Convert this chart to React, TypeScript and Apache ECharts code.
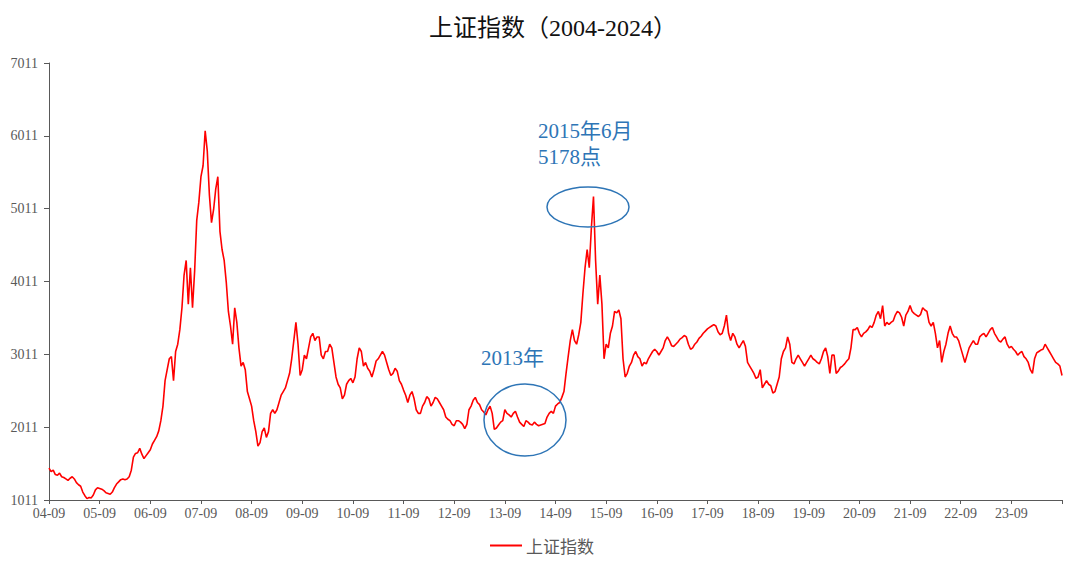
import React, { useEffect, useRef } from "react";
import * as echarts from "echarts";

// Semi-monthly closes (1st / mid of each month), starting 2004-09
const y2004 = [1450, 1400, 1420, 1360, 1350, 1380, 1330, 1320];
const y2005 = [1300, 1280, 1310, 1330, 1300, 1250, 1220, 1200, 1120, 1070, 1030, 1045, 1040, 1080, 1150, 1180, 1170, 1160, 1140, 1110, 1100, 1090, 1120, 1180];
const y2006 = [1230, 1260, 1290, 1300, 1290, 1300, 1330, 1420, 1600, 1650, 1660, 1720, 1640, 1580, 1620, 1660, 1700, 1780, 1830, 1880, 1960, 2100, 2300, 2650];
const y2007 = [2800, 2950, 2980, 2650, 3050, 3150, 3350, 3650, 4100, 4300, 3700, 4200, 3650, 4150, 4850, 5100, 5450, 5600, 6080, 5800, 5200, 4820, 5000, 5280];
const y2008 = [5450, 4700, 4450, 4300, 4000, 3600, 3400, 3150, 3650, 3450, 3100, 2850, 2900, 2800, 2500, 2400, 2300, 2100, 1950, 1750, 1800, 1950, 2000, 1870];
const y2009 = [1950, 2200, 2250, 2200, 2250, 2350, 2450, 2500, 2550, 2650, 2750, 2950, 3200, 3450, 3150, 2720, 2800, 3000, 2950, 3100, 3250, 3300, 3200, 3250];
const y2010 = [3250, 3000, 2950, 3050, 3050, 3150, 3100, 2900, 2700, 2600, 2550, 2400, 2450, 2600, 2650, 2680, 2620, 2700, 2950, 3100, 3050, 2850, 2900, 2820];
const y2011 = [2780, 2700, 2800, 2920, 2950, 3000, 3050, 3000, 2900, 2800, 2720, 2750, 2820, 2780, 2650, 2600, 2520, 2450, 2350, 2450, 2500, 2400, 2250, 2200];
const y2012 = [2200, 2300, 2350, 2430, 2400, 2300, 2350, 2420, 2400, 2350, 2300, 2250, 2150, 2120, 2100, 2050, 2030, 2100, 2100, 2080, 2050, 1990, 2050, 2250];
const y2013 = [2300, 2380, 2420, 2350, 2320, 2250, 2220, 2180, 2250, 2300, 2200, 1980, 2000, 2040, 2080, 2100, 2250, 2200, 2180, 2150, 2200, 2230, 2150, 2080];
const y2014 = [2050, 2020, 2100, 2080, 2050, 2040, 2080, 2050, 2030, 2040, 2050, 2060, 2150, 2200, 2230, 2200, 2300, 2330, 2350, 2420, 2500, 2750, 2980, 3200];
const y2015 = [3350, 3200, 3150, 3280, 3450, 3850, 4200, 4450, 4200, 4750, 5178, 4300, 3700, 4100, 3700, 2950, 3150, 3100, 3300, 3400, 3600, 3580, 3620, 3500];
const y2016 = [2950, 2700, 2750, 2850, 2900, 3000, 3050, 2980, 2950, 2850, 2900, 2880, 2950, 3000, 3050, 3080, 3050, 3000, 3050, 3100, 3200, 3250, 3200, 3130];
const y2017 = [3120, 3150, 3180, 3220, 3240, 3270, 3250, 3150, 3080, 3100, 3150, 3180, 3230, 3260, 3300, 3330, 3360, 3380, 3400, 3420, 3400, 3320, 3280, 3300];
const y2018 = [3400, 3550, 3300, 3200, 3300, 3250, 3150, 3100, 3150, 3200, 3120, 2900, 2850, 2800, 2750, 2680, 2700, 2800, 2550, 2600, 2650, 2600, 2580, 2480];
const y2019 = [2500, 2600, 2700, 2950, 3050, 3100, 3250, 3150, 2900, 2880, 2950, 3000, 2950, 2900, 2850, 2900, 2950, 3000, 2950, 2930, 2900, 2880, 2950, 3050];
const y2020 = [3100, 2980, 2750, 3000, 3000, 2750, 2780, 2830, 2850, 2880, 2920, 2950, 3100, 3350, 3350, 3380, 3300, 3250, 3300, 3320, 3350, 3400, 3380, 3450];
const y2021 = [3550, 3600, 3500, 3680, 3400, 3450, 3420, 3450, 3470, 3550, 3600, 3580, 3520, 3400, 3550, 3600, 3680, 3600, 3570, 3550, 3530, 3560, 3650, 3620];
const y2022 = [3600, 3450, 3400, 3450, 3300, 3100, 3200, 2900, 3050, 3150, 3300, 3400, 3300, 3250, 3250, 3200, 3100, 3000, 2900, 3000, 3100, 3150, 3200, 3150];
const y2023 = [3150, 3250, 3280, 3300, 3250, 3300, 3350, 3380, 3300, 3250, 3200, 3180, 3220, 3250, 3150, 3100, 3120, 3080, 3050, 3000, 3030, 3050, 2980, 2950];
const y2024 = [2900, 2800, 2750, 2950, 3030, 3050, 3070, 3080, 3150, 3100, 3050, 3000, 2950, 2900, 2880, 2850, 2720];

const xTickLabels = ["04-09", "05-09", "06-09", "07-09", "08-09", "09-09", "10-09", "11-09", "12-09", "13-09", "14-09", "15-09", "16-09", "17-09", "18-09", "19-09", "20-09", "21-09", "22-09", "23-09"];
const yTicks = [1011, 2011, 3011, 4011, 5011, 6011, 7011];

const seriesName = "上证指数";
const titleText = "上证指数（2004-2024）";

const closes: number[] = ([] as number[]).concat(
  y2004, y2005, y2006, y2007, y2008, y2009, y2010, y2011, y2012, y2013, y2014,
  y2015, y2016, y2017, y2018, y2019, y2020, y2021, y2022, y2023, y2024
);

const SERIF = '"Liberation Serif", "Noto Sans CJK SC", serif';
const BLUE = "#2E75B6";

export default function App() {
  const ref = useRef<HTMLDivElement>(null);
  useEffect(() => {
    if (!ref.current) return;
    const chart = echarts.init(ref.current, undefined, { renderer: "svg" });
    const data = closes.map((v, i) => [i / 2, v]);
    chart.setOption({
      animation: false,
      backgroundColor: "#ffffff",
      title: {
        text: titleText,
        left: 553,
        textAlign: "center",
        top: 16,
        padding: 0,
        textStyle: { fontFamily: SERIF, fontSize: 24, fontWeight: "normal", color: "#111" },
      },
      legend: {
        left: 490,
        top: 537,
        padding: 0,
        itemWidth: 32,
        itemHeight: 2,
        itemGap: 4,
        icon: "rect",
        data: [{ name: seriesName, icon: "rect", itemStyle: { color: "#FF0000" } }],
        textStyle: { fontFamily: '"Noto Sans CJK SC", sans-serif', fontSize: 17, color: "#595959", padding: [0, 0, 0, -1] },
      },
      grid: { left: 49, right: 18, top: 63, bottom: 69, containLabel: false, outerBoundsMode: "none" },
      xAxis: {
        type: "value",
        min: 0,
        max: 240,
        interval: 12,
        axisLine: { show: true, lineStyle: { color: "#595959", width: 1 } },
        axisTick: { show: true, length: 4, lineStyle: { color: "#595959" } },
        splitLine: { show: false },
        axisLabel: {
          margin: 6,
          color: "#595959",
          fontSize: 14,
          fontFamily: SERIF,
          showMaxLabel: true,
          formatter: (v: number) => xTickLabels[Math.round(v / 12)] ?? "",
        },
      },
      yAxis: {
        type: "value",
        min: 1011,
        max: 7011,
        axisLine: { show: true, lineStyle: { color: "#595959", width: 1 } },
        axisTick: { show: true, length: 5, customValues: yTicks, lineStyle: { color: "#595959" } },
        splitLine: { show: false },
        axisLabel: {
          customValues: yTicks,
          margin: 11,
          color: "#595959",
          fontSize: 14,
          fontFamily: SERIF,
          formatter: (v: number) => String(Math.round(v)),
        },
      },
      series: [
        {
          name: seriesName,
          type: "line",
          data,
          showSymbol: false,
          symbol: "none",
          clip: true,
          lineStyle: { color: "#FF0000", width: 1.6 },
          itemStyle: { color: "#FF0000" },
        },
      ],
      graphic: [
        {
          type: "ellipse",
          shape: { cx: 525, cy: 420, rx: 41, ry: 36 },
          style: { fill: "none", stroke: BLUE, lineWidth: 1.5 },
          z: 100,
        },
        {
          type: "ellipse",
          shape: { cx: 588, cy: 207, rx: 41, ry: 20 },
          style: { fill: "none", stroke: BLUE, lineWidth: 1.5 },
          z: 100,
        },
        {
          type: "text",
          x: 481,
          y: 358,
          style: { text: "2013年", fill: BLUE, font: '21px "Liberation Serif", "Noto Sans CJK SC"', verticalAlign: "middle" },
          z: 100,
        },
        {
          type: "text",
          x: 538,
          y: 131,
          style: { text: "2015年6月", fill: BLUE, font: '21px "Liberation Serif", "Noto Sans CJK SC"', verticalAlign: "middle" },
          z: 100,
        },
        {
          type: "text",
          x: 538,
          y: 157,
          style: { text: "5178点", fill: BLUE, font: '21px "Liberation Serif", "Noto Sans CJK SC"', verticalAlign: "middle" },
          z: 100,
        },
      ],
    });
    return () => chart.dispose();
  }, []);
  return (
    <div
      ref={ref}
      style={{ position: "absolute", left: 0, top: 0, width: 1080, height: 569, background: "#fff" }}
    />
  );
}
